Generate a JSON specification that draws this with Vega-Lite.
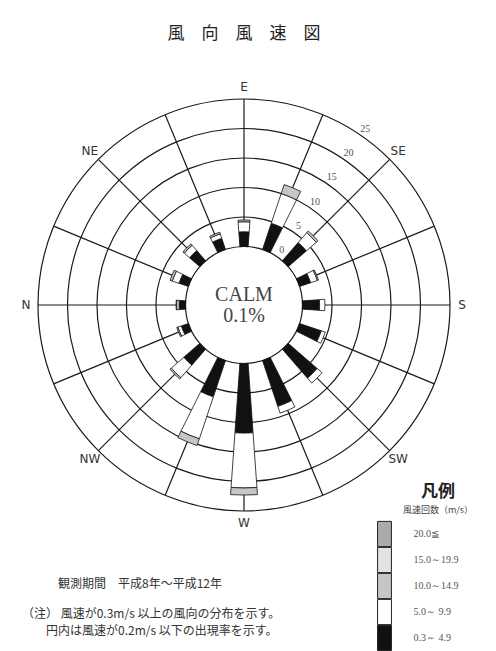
{
  "$schema": "https://vega.github.io/schema/vega-lite/v6.json",
  "background": "white",
  "padding": {"left": 0, "top": 25, "right": 0, "bottom": 12},
  "title": {"text": "風　向　風　速　図", "font": "Noto Sans CJK JP", "fontSize": 17, "fontWeight": "normal", "color": "#222", "anchor": "middle", "offset": 5},
  "datasets": {
    "bars": [
      {"dir": "E", "cls": "0.3～ 4.9", "k": 1, "pct": 2.5},
      {"dir": "E", "cls": "5.0～ 9.9", "k": 2, "pct": 1.7},
      {"dir": "E", "cls": "10.0～14.9", "k": 3, "pct": 0.3},
      {"dir": "ESE", "cls": "0.3～ 4.9", "k": 1, "pct": 4.7},
      {"dir": "ESE", "cls": "5.0～ 9.9", "k": 2, "pct": 5.3},
      {"dir": "ESE", "cls": "10.0～14.9", "k": 3, "pct": 1.6},
      {"dir": "SE", "cls": "0.3～ 4.9", "k": 1, "pct": 4.1},
      {"dir": "SE", "cls": "5.0～ 9.9", "k": 2, "pct": 2.2},
      {"dir": "SE", "cls": "10.0～14.9", "k": 3, "pct": 0.4},
      {"dir": "SSE", "cls": "0.3～ 4.9", "k": 1, "pct": 2.0},
      {"dir": "SSE", "cls": "5.0～ 9.9", "k": 2, "pct": 1.2},
      {"dir": "SSE", "cls": "10.0～14.9", "k": 3, "pct": 0.2},
      {"dir": "S", "cls": "0.3～ 4.9", "k": 1, "pct": 2.9},
      {"dir": "S", "cls": "5.0～ 9.9", "k": 2, "pct": 0.9},
      {"dir": "SSW", "cls": "0.3～ 4.9", "k": 1, "pct": 3.9},
      {"dir": "SSW", "cls": "5.0～ 9.9", "k": 2, "pct": 0.7},
      {"dir": "SW", "cls": "0.3～ 4.9", "k": 1, "pct": 6.5},
      {"dir": "SW", "cls": "5.0～ 9.9", "k": 2, "pct": 1.1},
      {"dir": "WSW", "cls": "0.3～ 4.9", "k": 1, "pct": 8.2},
      {"dir": "WSW", "cls": "5.0～ 9.9", "k": 2, "pct": 1.2},
      {"dir": "W", "cls": "0.3～ 4.9", "k": 1, "pct": 11.8},
      {"dir": "W", "cls": "5.0～ 9.9", "k": 2, "pct": 9.3},
      {"dir": "W", "cls": "10.0～14.9", "k": 3, "pct": 1.2},
      {"dir": "WNW", "cls": "0.3～ 4.9", "k": 1, "pct": 6.5},
      {"dir": "WNW", "cls": "5.0～ 9.9", "k": 2, "pct": 7.5},
      {"dir": "WNW", "cls": "10.0～14.9", "k": 3, "pct": 1.2},
      {"dir": "NW", "cls": "0.3～ 4.9", "k": 1, "pct": 3.6},
      {"dir": "NW", "cls": "5.0～ 9.9", "k": 2, "pct": 2.8},
      {"dir": "NW", "cls": "10.0～14.9", "k": 3, "pct": 0.3},
      {"dir": "NNW", "cls": "0.3～ 4.9", "k": 1, "pct": 1.3},
      {"dir": "NNW", "cls": "5.0～ 9.9", "k": 2, "pct": 0.6},
      {"dir": "NNW", "cls": "10.0～14.9", "k": 3, "pct": 0.2},
      {"dir": "N", "cls": "0.3～ 4.9", "k": 1, "pct": 1.1},
      {"dir": "N", "cls": "5.0～ 9.9", "k": 2, "pct": 0.4},
      {"dir": "N", "cls": "10.0～14.9", "k": 3, "pct": 0.1},
      {"dir": "NNE", "cls": "0.3～ 4.9", "k": 1, "pct": 1.7},
      {"dir": "NNE", "cls": "5.0～ 9.9", "k": 2, "pct": 1.2},
      {"dir": "NNE", "cls": "10.0～14.9", "k": 3, "pct": 0.4},
      {"dir": "NE", "cls": "0.3～ 4.9", "k": 1, "pct": 2.3},
      {"dir": "NE", "cls": "5.0～ 9.9", "k": 2, "pct": 1.2},
      {"dir": "NE", "cls": "10.0～14.9", "k": 3, "pct": 0.3},
      {"dir": "ENE", "cls": "0.3～ 4.9", "k": 1, "pct": 2.0},
      {"dir": "ENE", "cls": "5.0～ 9.9", "k": 2, "pct": 0.8},
      {"dir": "ENE", "cls": "10.0～14.9", "k": 3, "pct": 0.3}
    ],
    "dirs": [
      {"dir": "N", "bearing": 0}, {"dir": "NNE", "bearing": 22.5}, {"dir": "NE", "bearing": 45}, {"dir": "ENE", "bearing": 67.5},
      {"dir": "E", "bearing": 90}, {"dir": "ESE", "bearing": 112.5}, {"dir": "SE", "bearing": 135}, {"dir": "SSE", "bearing": 157.5},
      {"dir": "S", "bearing": 180}, {"dir": "SSW", "bearing": 202.5}, {"dir": "SW", "bearing": 225}, {"dir": "WSW", "bearing": 247.5},
      {"dir": "W", "bearing": 270}, {"dir": "WNW", "bearing": 292.5}, {"dir": "NW", "bearing": 315}, {"dir": "NNW", "bearing": 337.5}
    ],
    "labels": [
      {"dir": "E"}, {"dir": "SE"}, {"dir": "S"}, {"dir": "SW"}, {"dir": "W"}, {"dir": "NW"}, {"dir": "N"}, {"dir": "NE"}
    ],
    "rings": [{"v": 0}, {"v": 5}, {"v": 10}, {"v": 15}, {"v": 20}, {"v": 25}],
    "calm": [{"label": "CALM", "value": "0.1%"}]
  },
  "vconcat": [
    {
      "title": {
        "text": "\u200b　　　観測期間　平成8年～平成12年",
        "subtitle": ["（注） 風速が0.3m/s 以上の風向の分布を示す。", "\u200b　　円内は風速が0.2m/s 以下の出現率を示す。"],
        "orient": "bottom", "anchor": "start", "align": "left", "dx": 22, "dy": 17, "offset": 0,
        "font": "Noto Sans CJK JP", "fontSize": 12, "fontWeight": "normal", "color": "#333",
        "subtitleFont": "Noto Sans CJK JP", "subtitleFontSize": 12, "subtitleColor": "#333", "subtitleLineHeight": 16.5, "subtitlePadding": 18
      },
      "vconcat": [
        {
          "title": {
            "text": "凡例", "subtitle": "風速回数（m/s）",
            "orient": "top", "anchor": "middle", "frame": "group", "dx": 194, "dy": 468, "offset": 0,
            "font": "Noto Sans CJK JP", "fontSize": 17, "fontWeight": "bold", "color": "#222",
            "subtitleFont": "Noto Sans CJK JP", "subtitleFontSize": 9, "subtitleColor": "#444", "subtitlePadding": 5
          },
          "width": 488,
          "height": 514,
          "resolve": {"scale": {"theta": "independent"}},
          "layer": [
            {
              "data": {"name": "rings"},
              "mark": {"type": "arc", "theta": 0, "theta2": 6.2832, "filled": false, "color": "#1a1a1a", "strokeWidth": 1.2},
              "encoding": {
                "radius": {"field": "v", "type": "quantitative", "scale": {"type": "linear", "domain": [0, 25], "range": [58.5, 206], "zero": false}},
                "radius2": {"field": "v"}
              }
            },
            {
              "data": {"name": "dirs"},
              "mark": {"type": "arc", "filled": false, "color": "#1a1a1a", "strokeWidth": 1.2},
              "encoding": {
                "theta": {"field": "bearing", "type": "quantitative", "stack": null, "scale": {"domain": [0, 360], "range": [-1.5708, 4.7124], "zero": false}},
                "theta2": {"field": "bearing"},
                "radius": {"datum": 0, "type": "quantitative", "scale": {"type": "linear", "domain": [0, 25], "range": [58.5, 206], "zero": false}},
                "radius2": {"datum": 25}
              }
            },
            {
              "data": {"name": "bars"},
              "mark": {"type": "arc", "stroke": "#111", "strokeWidth": 0.8},
              "encoding": {
                "theta": {"field": "dir", "type": "nominal", "scale": {"type": "band", "domain": ["E", "ESE", "SE", "SSE", "S", "SSW", "SW", "WSW", "W", "WNW", "NW", "NNW", "N", "NNE", "NE", "ENE"], "range": [-0.19635, 6.08684], "paddingInner": 0.64, "paddingOuter": 0.32}},
                "radius": {"field": "pct", "type": "quantitative", "stack": "zero", "scale": {"type": "linear", "domain": [0, 25], "range": [58.5, 206], "zero": false}},
                "fill": {
                  "field": "cls", "type": "nominal",
                  "scale": {"domain": ["20.0≦", "15.0～19.9", "10.0～14.9", "5.0～ 9.9", "0.3～ 4.9"], "range": ["#ababab", "#e2e2e2", "#c6c6c6", "#ffffff", "#111111"]},
                  "legend": {
                    "title": null, "orient": "none", "legendX": 373.5, "legendY": 475,
                    "symbolType": "M-0.66,-1.2H0.66V1.2H-0.66Z", "symbolSize": 441, "symbolStrokeColor": "#222", "symbolStrokeWidth": 1, "symbolOpacity": 1,
                    "labelFont": "Liberation Serif", "labelFontSize": 10, "labelColor": "#555", "labelOffset": 18,
                    "rowPadding": -5.5, "padding": 0
                  }
                },
                "order": {"field": "k", "type": "quantitative", "sort": "ascending"}
              }
            },
            {
              "data": {"name": "labels"},
              "mark": {"type": "text", "font": "DejaVu Sans", "fontSize": 12, "color": "#333", "radiusOffset": 12, "align": "center", "baseline": "middle"},
              "encoding": {
                "theta": {"field": "dir", "type": "nominal", "scale": {"type": "band", "domain": ["E", "ESE", "SE", "SSE", "S", "SSW", "SW", "WSW", "W", "WNW", "NW", "NNW", "N", "NNE", "NE", "ENE"], "range": [-0.19635, 6.08684], "paddingInner": 0.64, "paddingOuter": 0.32}},
                "radius": {"datum": 25, "type": "quantitative", "scale": {"type": "linear", "domain": [0, 25], "range": [58.5, 206], "zero": false}},
                "text": {"field": "dir"}
              }
            },
            {
              "data": {"name": "rings"},
              "mark": {"type": "text", "font": "Liberation Serif", "fontSize": 10, "color": "#555", "radiusOffset": 8, "thetaOffset": -0.183, "align": "center", "baseline": "middle"},
              "encoding": {
                "theta": {"datum": "SE", "type": "nominal", "scale": {"type": "band", "domain": ["E", "ESE", "SE", "SSE", "S", "SSW", "SW", "WSW", "W", "WNW", "NW", "NNW", "N", "NNE", "NE", "ENE"], "range": [-0.19635, 6.08684], "paddingInner": 0.64, "paddingOuter": 0.32}},
                "radius": {"field": "v", "type": "quantitative", "scale": {"type": "linear", "domain": [0, 25], "range": [58.5, 206], "zero": false}},
                "text": {"field": "v"}
              }
            },
            {
              "data": {"name": "calm"},
              "mark": {"type": "text", "font": "Liberation Serif", "fontSize": 20, "color": "#444", "dy": -10, "align": "center", "baseline": "middle"},
              "encoding": {"text": {"field": "label"}}
            },
            {
              "data": {"name": "calm"},
              "mark": {"type": "text", "font": "Liberation Serif", "fontSize": 20, "color": "#444", "dy": 11, "align": "center", "baseline": "middle"},
              "encoding": {"text": {"field": "value"}}
            }
          ]
        }
      ]
    }
  ],
  "config": {"view": {"stroke": null}, "concat": {"spacing": 0}, "legend": {"rowPadding": -5.5}}
}
